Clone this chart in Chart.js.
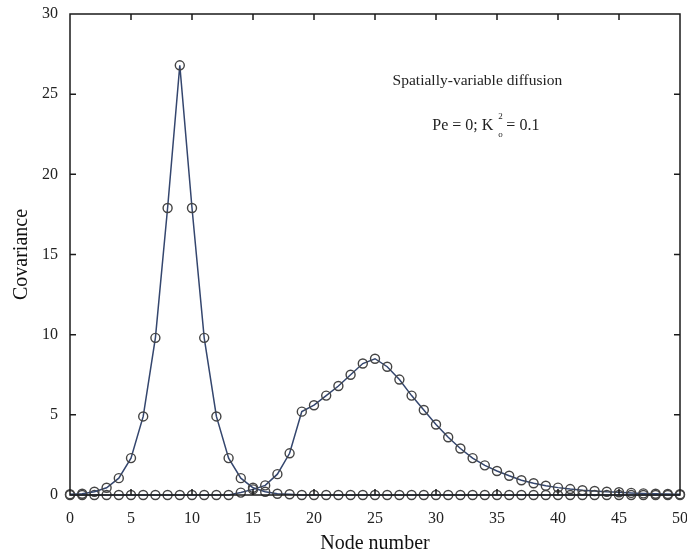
<!DOCTYPE html>
<html>
<head>
<meta charset="utf-8">
<script src="https://cdn.jsdelivr.net/npm/chart.js@4/dist/chart.umd.min.js"></script>
<style>
  html, body { margin: 0; padding: 0; background: #fff; }
  .chart-container { position: relative; width: 687px; height: 560px; }
</style>
</head>
<body>
<div class="chart-container">
  <canvas id="chart"></canvas>
</div>
<script>
// node numbers along the domain
const nodes = Array.from({ length: 51 }, (_, i) => i);

// covariance, source near node 9
const peakSeries = [
  0.05, 0.08, 0.2, 0.45, 1.05, 2.3, 4.9, 9.8, 17.9, 26.8,
  17.9, 9.8, 4.9, 2.3, 1.05, 0.45, 0.2, 0.08, 0.05, 0,
  0, 0, 0, 0, 0, 0, 0, 0, 0, 0,
  0, 0, 0, 0, 0, 0, 0, 0, 0, 0,
  0, 0, 0, 0, 0, 0, 0, 0, 0, 0, 0
];

// covariance, broad hump around node 25
const humpSeries = [
  0, 0, 0, 0, 0, 0, 0, 0, 0, 0,
  0, 0, 0, 0, 0.15, 0.35, 0.6, 1.3, 2.6, 5.2,
  5.6, 6.2, 6.8, 7.5, 8.2, 8.5, 8.0, 7.2, 6.2, 5.3,
  4.4, 3.6, 2.9, 2.3, 1.85, 1.5, 1.2, 0.92, 0.73, 0.58,
  0.46, 0.37, 0.3, 0.25, 0.2, 0.17, 0.13, 0.1, 0.08, 0.06, 0.05
];

const xTicks = [0, 5, 10, 15, 20, 25, 30, 35, 40, 45, 50];
const yTicks = [0, 5, 10, 15, 20, 25, 30];

const serif = '"Liberation Serif", "DejaVu Serif", serif';
const lineColor = '#34466e';
const markerColor = '#444';

function toPoints(values) {
  return nodes.map((n, i) => ({ x: n, y: values[i] }));
}

function seriesStyle() {
  return {
    borderColor: lineColor,
    borderWidth: 1.5,
    pointRadius: 4.5,
    pointBorderWidth: 1.4,
    pointBorderColor: markerColor,
    pointBackgroundColor: 'rgba(0,0,0,0)',
    backgroundColor: 'rgba(0,0,0,0)',
    tension: 0,
    fill: false
  };
}

// box frame with inward tick marks, plus the text notes
const framePlugin = {
  id: 'frame',
  afterDatasetsDraw(chart) {
    const { ctx, chartArea: a, scales } = chart;
    ctx.save();
    ctx.strokeStyle = '#1a1a1a';
    ctx.lineWidth = 1.5;
    ctx.strokeRect(a.left, a.top, a.right - a.left, a.bottom - a.top);

    const len = 6;
    ctx.beginPath();
    xTicks.slice(1, -1).forEach(v => {
      const px = scales.x.getPixelForValue(v);
      ctx.moveTo(px, a.bottom); ctx.lineTo(px, a.bottom - len);
      ctx.moveTo(px, a.top); ctx.lineTo(px, a.top + len);
    });
    yTicks.slice(1, -1).forEach(v => {
      const py = scales.y.getPixelForValue(v);
      ctx.moveTo(a.left, py); ctx.lineTo(a.left + len, py);
      ctx.moveTo(a.right, py); ctx.lineTo(a.right - len, py);
    });
    ctx.stroke();

    // annotations
    ctx.fillStyle = '#222';
    ctx.textBaseline = 'middle';
    ctx.font = '15.5px ' + serif;
    ctx.textAlign = 'center';
    ctx.fillText('Spatially-variable diffusion',
      scales.x.getPixelForValue(33.4), scales.y.getPixelForValue(25.8));

    const y2 = scales.y.getPixelForValue(23.05);
    ctx.textAlign = 'left';
    let x2 = scales.x.getPixelForValue(29.7);
    const part1 = 'Pe = 0; K';
    ctx.font = '16px ' + serif;
    ctx.fillText(part1, x2, y2);
    x2 += ctx.measureText(part1).width + 5;
    ctx.font = '9px ' + serif;
    ctx.fillText('2', x2, y2 - 9);
    ctx.fillText('o', x2, y2 + 9);
    x2 += 8;
    ctx.font = '16px ' + serif;
    ctx.fillText('= 0.1', x2, y2);
    ctx.restore();
  }
};

new Chart(document.getElementById('chart'), {
  type: 'line',
  data: {
    datasets: [
      { label: 'Peak', data: toPoints(peakSeries), ...seriesStyle() },
      { label: 'Hump', data: toPoints(humpSeries), ...seriesStyle() }
    ]
  },
  options: {
    responsive: true,
    maintainAspectRatio: false,
    animation: false,
    clip: false,
    layout: { padding: { top: 14, right: 7, left: 0, bottom: 0 } },
    plugins: {
      legend: { display: false },
      tooltip: { enabled: false }
    },
    scales: {
      x: {
        type: 'linear',
        min: 0,
        max: 50,
        afterFit: s => { s.height = 65; s.paddingLeft = 0; s.paddingRight = 0; },
        afterBuildTicks: s => { s.ticks = xTicks.map(v => ({ value: v })); },
        ticks: {
          autoSkip: false,
          maxRotation: 0,
          padding: 14,
          color: '#222',
          font: { family: serif, size: 16 }
        },
        grid: { display: false, drawTicks: false },
        border: { display: false },
        title: {
          display: true,
          text: 'Node number',
          color: '#111',
          font: { family: serif, size: 20 },
          padding: { top: 0, bottom: 4 }
        }
      },
      y: {
        type: 'linear',
        min: 0,
        max: 30,
        afterFit: s => { s.width = 70; s.paddingTop = 0; s.paddingBottom = 0; },
        afterBuildTicks: s => { s.ticks = yTicks.map(v => ({ value: v })); },
        ticks: {
          padding: 12,
          color: '#222',
          font: { family: serif, size: 16 }
        },
        grid: { display: false, drawTicks: false },
        border: { display: false },
        title: {
          display: true,
          text: 'Covariance',
          color: '#111',
          font: { family: serif, size: 20 },
          padding: { top: 10, bottom: 0 }
        }
      }
    }
  },
  plugins: [framePlugin]
});
</script>
</body>
</html>
